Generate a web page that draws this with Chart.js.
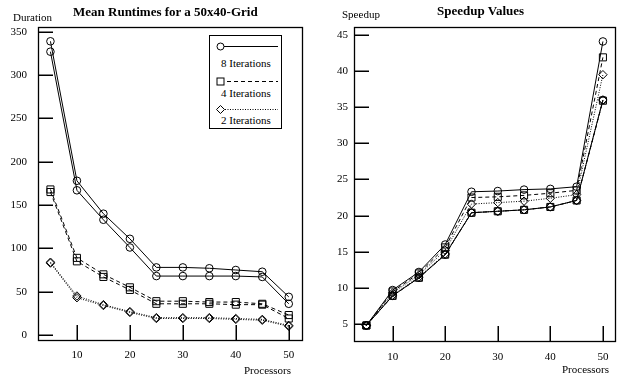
<!DOCTYPE html>
<html>
<head>
<meta charset="utf-8">
<script src="https://cdn.jsdelivr.net/npm/chart.js@4"></script>
<style>
  body { margin: 0; background: #fff; }
  #wrap { position: relative; width: 621px; height: 381px; overflow: hidden;
          font-family: "Liberation Serif", "Times New Roman", serif; color: #000; }
  .pane { position: absolute; top: 0; height: 381px; }
  .txt { position: absolute; white-space: nowrap; font-size: 11px; line-height: 1; }
  .title { font-weight: bold; font-size: 13px; }
  #legend { position: absolute; left: 209px; top: 35px; width: 73px; height: 94px;
            border: 1px solid #000; box-sizing: border-box; background: #fff; }
  #legend svg { position: absolute; left: -1px; top: -1px; }
  #legend .txt { left: 11px; }
</style>
</head>
<body>
<div id="wrap">
  <div class="pane" style="left:0;width:310px"><canvas id="runtime" width="310" height="381"></canvas></div>
  <div class="pane" style="left:310px;width:311px"><canvas id="speedup" width="311" height="381"></canvas></div>

  <div class="txt title" style="left:73px;top:5px">Mean Runtimes for a 50x40-Grid</div>
  <div class="txt title" style="left:437px;top:4px">Speedup Values</div>
  <div class="txt" style="left:13px;top:12px">Duration</div>
  <div class="txt" style="left:342px;top:9px">Speedup</div>
  <div class="txt" style="left:244px;top:365px">Processors</div>
  <div class="txt" style="left:562px;top:364px">Processors</div>

  <div id="legend">
    <svg width="73" height="94">
      <line x1="11" y1="11.5" x2="69" y2="11.5" stroke="#000" stroke-width="1"/>
      <circle cx="11.5" cy="11.5" r="3.5" fill="#fff" stroke="#000"/>
      <line x1="11" y1="46.5" x2="69" y2="46.5" stroke="#000" stroke-dasharray="4,3"/>
      <rect x="8" y="43" width="7" height="7" fill="#fff" stroke="#000"/>
      <line x1="11" y1="74.5" x2="69" y2="74.5" stroke="#000" stroke-dasharray="1,1.5"/>
      <polygon points="11.5,70.5 15.5,74.5 11.5,78.5 7.5,74.5" fill="#fff" stroke="#000"/>
    </svg>
    <div class="txt" style="top:22px">8 Iterations</div>
    <div class="txt" style="top:52px">4 Iterations</div>
    <div class="txt" style="top:79px">2 Iterations</div>
  </div>
</div>

<script>
const PROCESSORS = [5, 10, 15, 20, 25, 30, 35, 40, 45, 50];
const X_TICKS = [10, 20, 30, 40, 50];
const RUNTIME_TICKS = [0, 50, 100, 150, 200, 250, 300, 350];
const SPEEDUP_TICKS = [5, 10, 15, 20, 25, 30, 35, 40, 45];

// mean runtimes, two runs per iteration count
const RUN_8_A = [339, 178, 140, 111, 78, 78, 77, 75, 73, 44];
const RUN_8_B = [327, 167, 133, 101, 68, 68, 68, 68, 67, 36];
const RUN_4_A = [168, 89, 70, 55, 39, 39, 38, 38, 36, 23];
const RUN_4_B = [165, 85, 67, 52, 36, 36, 36, 35, 35, 19];
const RUN_2_A = [84, 45, 35, 27, 20, 20, 20, 19, 18, 11];
const RUN_2_B = [83, 43, 34, 26, 19, 19, 19, 18, 17, 10];

// speedup values
const SPEED_8_A = [4.8, 9.7, 12.2, 16.0, 23.3, 23.4, 23.6, 23.7, 24.0, 44.1];
const SPEED_4_A = [4.8, 9.5, 12.0, 15.6, 22.5, 22.6, 22.8, 23.1, 23.5, 41.9];
const SPEED_2_A = [4.8, 9.3, 11.8, 15.2, 21.6, 21.8, 22.0, 22.4, 22.9, 39.5];
const SPEED_8_B = [4.8, 8.9, 11.4, 14.6, 20.4, 20.6, 20.8, 21.2, 22.1, 36.0];
const SPEED_4_B = [4.8, 8.9, 11.4, 14.6, 20.4, 20.6, 20.8, 21.2, 22.1, 35.9];
const SPEED_2_B = [4.8, 9.0, 11.5, 14.7, 20.4, 20.6, 20.8, 21.2, 22.1, 36.0];

const CIRCLE = { point: "circle", r: 3.8, dash: [] };
const SQUARE = { point: "rect", r: 5, dash: [4, 3] };
const DIAMOND = { point: "rectRot", r: 4.2, dash: [1, 1.5] };

const FONT = { family: "'Liberation Serif', 'Times New Roman', serif", size: 11 };

function series(values, style) {
  return {
    data: PROCESSORS.map((p, i) => ({ x: p, y: values[i] })),
    borderColor: "#000",
    borderWidth: 1,
    borderDash: style.dash,
    pointStyle: style.point,
    pointRadius: style.r,
    pointBorderColor: "#000",
    pointBorderWidth: 1,
    pointBackgroundColor: "rgba(0,0,0,0)",
    tension: 0,
    fill: false
  };
}

// gnuplot style box with inward tick marks
function gnuFrame(yTicks) {
  return {
    id: "gnuFrame",
    afterDraw(chart) {
      const ctx = chart.ctx;
      const a = chart.chartArea;
      const x = chart.scales.x;
      const y = chart.scales.y;
      const left = Math.round(a.left);
      const bottom = Math.round(a.bottom);
      ctx.save();
      ctx.fillStyle = "#000";
      for (const v of yTicks) {
        const py = Math.round(y.getPixelForValue(v));
        ctx.fillRect(left, py - 0.5, 15, 1.5);
      }
      for (const v of X_TICKS) {
        const px = Math.round(x.getPixelForValue(v));
        ctx.fillRect(px - 0.5, bottom - 15, 1.5, 15);
      }
      ctx.strokeStyle = "#000";
      ctx.lineWidth = 1.3;
      ctx.strokeRect(left + 0.5, Math.round(a.top) + 0.5,
                     Math.round(a.width), Math.round(a.height));
      ctx.restore();
    }
  };
}

function makeChart(id, datasets, cfg) {
  return new Chart(document.getElementById(id), {
    type: "line",
    data: { datasets },
    plugins: [gnuFrame(cfg.yTicks)],
    options: {
      responsive: false,
      animation: false,
      layout: { padding: cfg.padding },
      plugins: { legend: { display: false }, tooltip: { enabled: false } },
      scales: {
        x: {
          type: "linear",
          min: cfg.xMin,
          max: cfg.xMax,
          grid: { display: false, drawTicks: false },
          border: { display: false },
          ticks: { font: FONT, color: "#000", padding: cfg.xPad, autoSkip: false, maxRotation: 0 },
          afterBuildTicks: (s) => { s.ticks = X_TICKS.map((v) => ({ value: v })); },
          afterFit: (s) => { s.height = cfg.xHeight; }
        },
        y: {
          type: "linear",
          min: cfg.yMin,
          max: cfg.yMax,
          grid: { display: false, drawTicks: false },
          border: { display: false },
          ticks: { font: FONT, color: "#000", padding: cfg.yPad, autoSkip: false },
          afterBuildTicks: (s) => { s.ticks = cfg.yTicks.map((v) => ({ value: v })); },
          afterFit: (s) => { s.width = cfg.yWidth; }
        }
      }
    }
  });
}

makeChart("runtime", [
  series(RUN_8_A, CIRCLE), series(RUN_8_B, CIRCLE),
  series(RUN_4_A, SQUARE), series(RUN_4_B, SQUARE),
  series(RUN_2_A, DIAMOND), series(RUN_2_B, DIAMOND)
], {
  padding: { left: 0, top: 27, right: 8, bottom: 0 },
  xMin: 2.65, xMax: 52.5, yMin: -5.8, yMax: 355.5,
  xHeight: 41, yWidth: 38, xPad: 9, yPad: 11,
  yTicks: RUNTIME_TICKS
});

makeChart("speedup", [
  series(SPEED_8_A, CIRCLE), series(SPEED_4_A, SQUARE), series(SPEED_2_A, DIAMOND),
  series(SPEED_8_B, CIRCLE), series(SPEED_4_B, SQUARE), series(SPEED_2_B, DIAMOND)
], {
  padding: { left: 0, top: 27, right: 4, bottom: 0 },
  xMin: 2.65, xMax: 52.3, yMin: 2.65, yMax: 46.1,
  xHeight: 40, yWidth: 44, xPad: 10, yPad: 6,
  yTicks: SPEEDUP_TICKS
});
</script>
</body>
</html>
